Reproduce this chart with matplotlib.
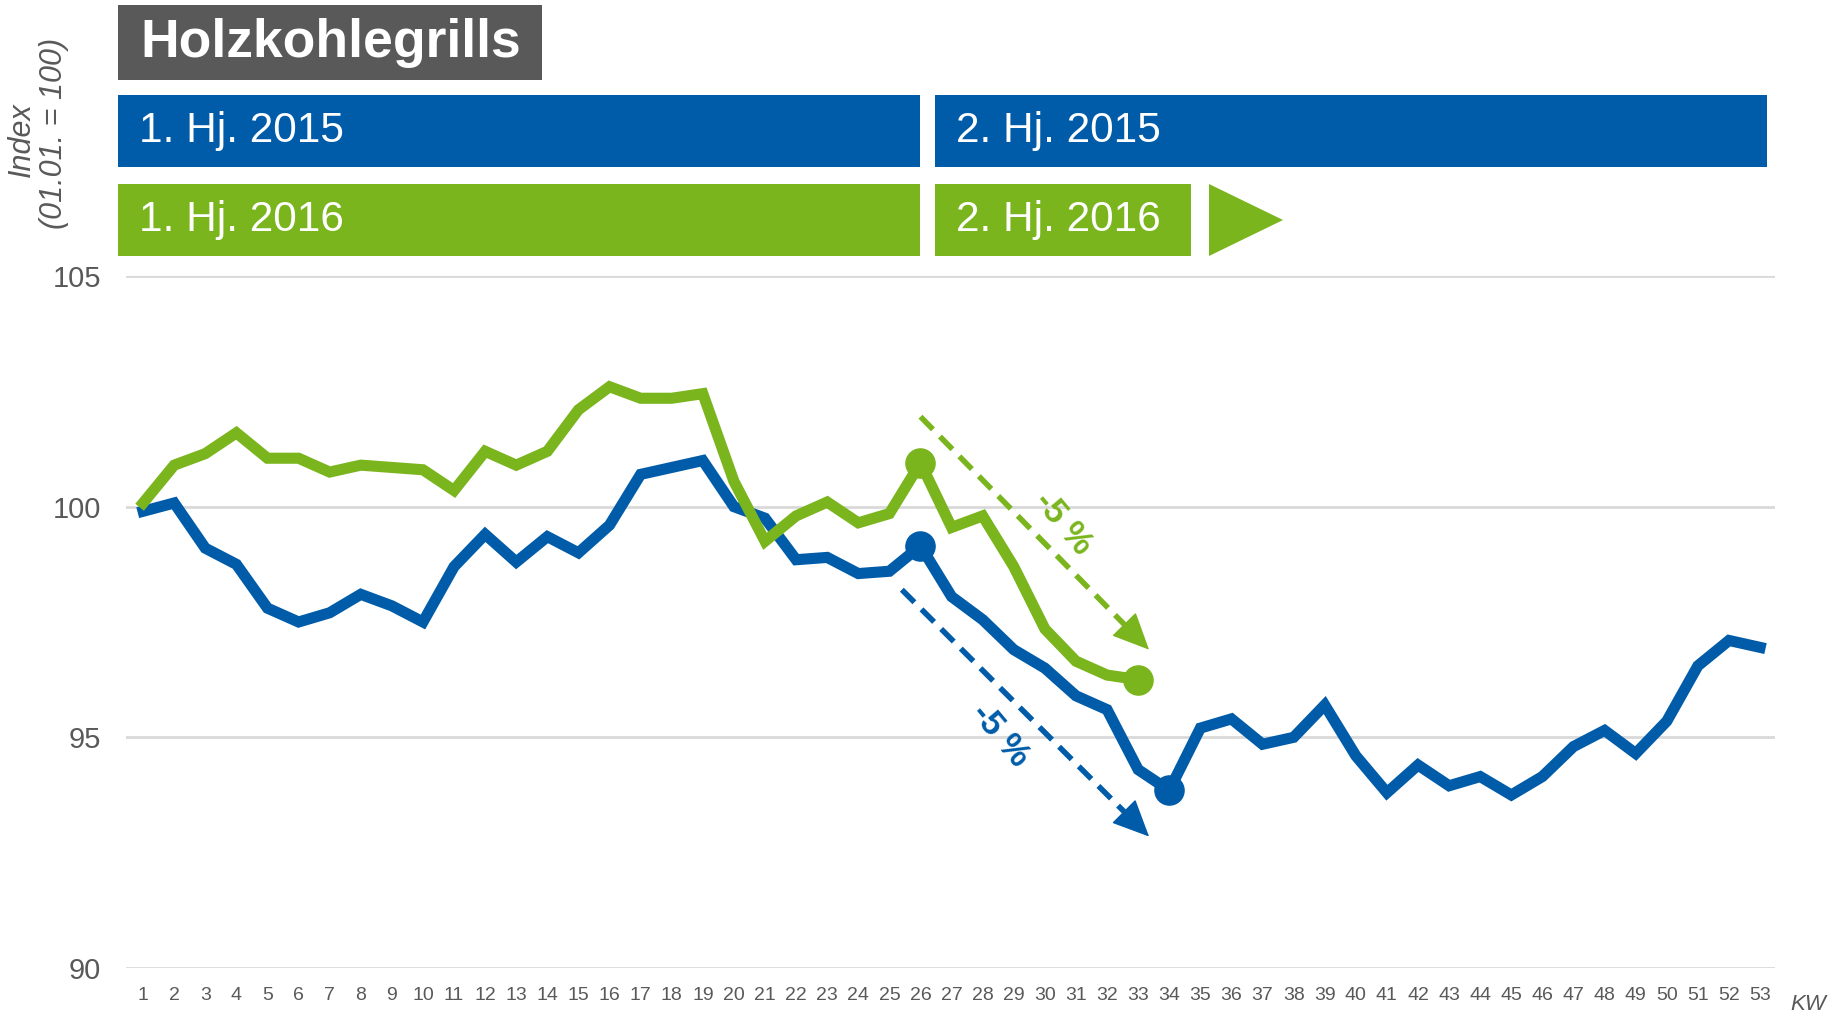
import matplotlib
matplotlib.use("Agg")
import matplotlib.pyplot as plt
from matplotlib.patches import Rectangle, Polygon

# --- data ---
weeks = list(range(1, 54))
index_2015 = [99.9, 100.08, 99.1, 98.75, 97.8, 97.5, 97.7, 98.1, 97.85, 97.5,
              98.7, 99.4, 98.8, 99.35, 99.0, 99.6, 100.7, 100.85, 101.0, 100.0,
              99.75, 98.85, 98.9, 98.55, 98.6, 99.15, 98.05, 97.55, 96.9, 96.5,
              95.9, 95.6, 94.3, 93.85, 95.2, 95.4, 94.85, 95.0, 95.7, 94.6,
              93.8, 94.4, 93.95, 94.15, 93.75, 94.15, 94.8, 95.15, 94.65, 95.35,
              96.55, 97.1, 96.95]
weeks_2016 = list(range(1, 34))
index_2016 = [100.08, 100.9, 101.15, 101.6, 101.05, 101.05, 100.75, 100.9, 100.85, 100.8,
              100.35, 101.2, 100.9, 101.2, 102.1, 102.6, 102.35, 102.35, 102.45, 100.55,
              99.25, 99.8, 100.1, 99.65, 99.85, 100.95, 99.55, 99.8, 98.7, 97.35,
              96.65, 96.35, 96.25]
marks_2015 = [26, 34]
marks_2016 = [26, 33]
yticks = [90, 95, 100, 105]

# trend arrows (start, end in data coords) and their labels
arrow_2016 = ((26.0, 101.95), (33.35, 96.9))
arrow_2015 = ((25.4, 98.2), (33.35, 92.85))
label_2016 = (30.6, 99.65)
label_2015 = (28.55, 95.05)

BLUE = "#005CA9"
GREEN = "#7AB51D"
GREY = "#595959"
GRID = "#D9D9D9"

plt.rcParams['font.family'] = ['Liberation Sans Narrow', 'Liberation Sans', 'DejaVu Sans']

W, H = 1835, 1013
fig = plt.figure(figsize=(W / 100, H / 100), dpi=100)
ax = fig.add_axes([126 / W, 1 - 968 / H, (1775 - 126) / W, (968 - 276) / H])

ax.set_xlim(0.45, 53.48)
ax.set_ylim(90, 105)
ax.set_yticks(yticks)
ax.set_xticks(weeks)
ax.set_xticklabels([str(w) for w in weeks])
ax.tick_params(axis='y', length=0, pad=18, labelsize=21, labelcolor=GREY)
ax.tick_params(axis='x', length=0, pad=14, labelsize=14, labelcolor=GREY)
for s in ax.spines.values():
    s.set_visible(False)
ax.grid(axis='y', color=GRID, linewidth=2)
ax.set_axisbelow(True)

ax.plot(weeks, index_2015, color=BLUE, lw=8, solid_joinstyle='miter', clip_on=False, zorder=3)
ax.plot(weeks_2016, index_2016, color=GREEN, lw=8, solid_joinstyle='miter', clip_on=False, zorder=4)
ax.plot(marks_2015, [index_2015[w - 1] for w in marks_2015], 'o', color=BLUE, ms=21, clip_on=False, zorder=5)
ax.plot(marks_2016, [index_2016[w - 1] for w in marks_2016], 'o', color=GREEN, ms=21, clip_on=False, zorder=5)

# dashed trend arrows: dashed shaft + solid head
for (start, end), col in [(arrow_2016, GREEN), (arrow_2015, BLUE)]:
    dx, dy = end[0] - start[0], end[1] - start[1]
    stop = (start[0] + dx * 0.93, start[1] + dy * 0.93)
    ax.plot([start[0], stop[0]], [start[1], stop[1]], color=col, lw=4,
            dashes=(3.2, 1.8), solid_capstyle='butt', zorder=6)
    near = (start[0] + dx * 0.99, start[1] + dy * 0.99)
    ax.annotate("", xy=end, xytext=near,
                arrowprops=dict(arrowstyle="-|>,head_length=1.2,head_width=0.55",
                                mutation_scale=20, color=col, lw=1,
                                shrinkA=0, shrinkB=0), zorder=6)
ax.text(*label_2016, "-5 %", color=GREEN, fontsize=25, fontweight='bold', rotation=-50,
        ha='center', va='center', rotation_mode='anchor', zorder=6)
ax.text(*label_2015, "-5 %", color=BLUE, fontsize=25, fontweight='bold', rotation=-50,
        ha='center', va='center', rotation_mode='anchor', zorder=6)

# header boxes (pixel layout)
def box(x0, y0, x1, y1, color):
    fig.patches.append(Rectangle((x0 / W, 1 - y1 / H), (x1 - x0) / W, (y1 - y0) / H,
                                 transform=fig.transFigure, facecolor=color, edgecolor='none'))

box(118, 5, 542, 80, GREY)
fig.text(140 / W, 1 - 43 / H, "Holzkohlegrills", color='white', fontsize=38.5,
         fontweight='bold', va='center', ha='left', family=['Liberation Sans'])
box(118, 95, 920, 167, BLUE)
box(935, 95, 1767, 167, BLUE)
box(118, 184, 920, 256, GREEN)
box(935, 184, 1191, 256, GREEN)
fig.patches.append(Polygon([(1209 / W, 1 - 184 / H), (1283 / W, 1 - 220 / H), (1209 / W, 1 - 256 / H)],
                           closed=True, transform=fig.transFigure, facecolor=GREEN, edgecolor='none'))
for x, y, t in [(139, 131, "1. Hj. 2015"), (956, 131, "2. Hj. 2015"),
                (139, 220, "1. Hj. 2016"), (956, 220, "2. Hj. 2016")]:
    fig.text(x / W, 1 - y / H, t, color='white', fontsize=30.5, va='center', ha='left',
             family=['Liberation Sans'])

# axis labels
fig.text(22 / W, 1 - 140 / H, "Index", rotation=90, style='italic', color=GREY,
         fontsize=22, ha='center', va='center')
fig.text(54 / W, 1 - 133 / H, "(01.01. = 100)", rotation=90, style='italic', color=GREY,
         fontsize=22, ha='center', va='center')
fig.text(1808 / W, 1 - 1004 / H, "KW", style='italic', color=GREY, fontsize=16,
         ha='center', va='center')

fig.savefig("out.png", dpi=100)
